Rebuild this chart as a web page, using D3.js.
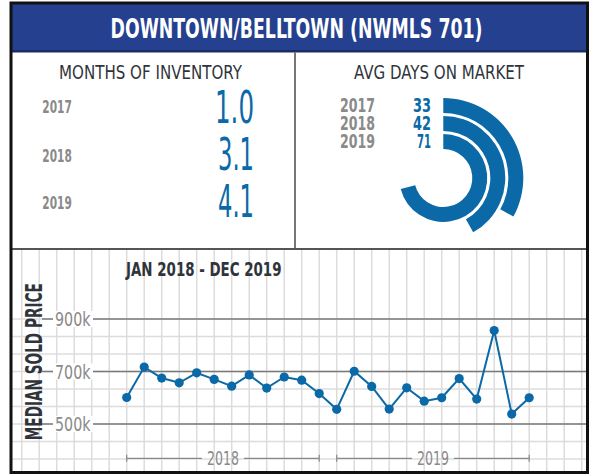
<!DOCTYPE html>
<html>
<head>
<meta charset="utf-8">
<script src="https://cdn.jsdelivr.net/npm/d3@7"></script>
<style>
  body { margin: 0; background: #fff; }
  svg { display: block; }
</style>
</head>
<body>
<div id="chart"></div>
<script>
// Data
const title = "DOWNTOWN/BELLTOWN (NWMLS 701)";
const inventoryYears = ["2017", "2018", "2019"];
const monthsInventory = ["1.0", "3.1", "4.1"];
const domYears = ["2017", "2018", "2019"];
const avgDays = [33, 42, 71];
// median sold price, Jan 2018 - Dec 2019, in $k
const medianPrice = [601, 717, 675, 657, 695, 670, 644, 687, 637, 679, 667, 616,
                     556, 701, 643, 557, 638, 587, 600, 673, 595, 856, 538, 600];
const priceTicks = [500, 700, 900];
const bracketYears = ["2018", "2019"];

const w = 592, h = 475;
const blue = "#0b69a7";
const dark = "#2f343a";
const gray = "#8a8a8a";
const font = "'Liberation Sans Narrow','DejaVu Sans Condensed',Roboto,sans-serif";

const svg = d3.select("#chart").append("svg")
  .attr("width", w).attr("height", h);

// helper for condensed text squeezed to a width
const label = (g, txt, x, y, o) => {
  const t = g.append("text")
    .attr("x", x).attr("y", y)
    .attr("text-anchor", o.anchor || "start")
    .style("font-family", font)
    .style("font-size", o.size + "px")
    .style("font-weight", o.weight || 400)
    .style("fill", o.fill)
    .text(txt);
  if (o.width) t.attr("textLength", o.width).attr("lengthAdjust", "spacingAndGlyphs");
  return t;
};

/************************************
 * Header
 ************************************/
svg.append("rect").attr("x", 12).attr("y", 4).attr("width", 575).attr("height", 48)
  .style("fill", "#24408e");
svg.append("rect").attr("x", 12).attr("y", 50).attr("width", 575).attr("height", 2.5)
  .style("fill", "#1b2e63");
label(svg, title, 296.5, 37.5, { anchor: "middle", size: 27, weight: 700, fill: "#fff", width: 372 });

/************************************
 * Months of inventory
 ************************************/
const left = svg.append("g");
label(left, "MONTHS OF INVENTORY", 150.5, 78.5, { anchor: "middle", size: 20, weight: 400, fill: dark, width: 183 });
const invRows = [113.3, 161.5, 209];
const invVals = [123.3, 170, 217.3];
const invW = [39, 36, 36];
inventoryYears.forEach((yr, i) => {
  label(left, yr, 42.3, invRows[i], { size: 17, weight: 700, fill: gray, width: 29.5 });
  label(left, monthsInventory[i], 254, invVals[i], { anchor: "end", size: 44, weight: 300, fill: blue, width: invW[i] });
});

/************************************
 * Avg days on market (radial bars)
 ************************************/
const right = svg.append("g");
label(right, "AVG DAYS ON MARKET", 439, 78.5, { anchor: "middle", size: 20, weight: 400, fill: dark, width: 170 });

const cx = 443.3, cy = 178;
const angle = d3.scaleLinear().domain([0, 100]).range([0, 2 * Math.PI]);
// innermost ring is the latest year
const ringR = d3.scaleBand().domain(domYears.slice().reverse()).range([29, 80]).paddingInner(0.17);
const bw = ringR.bandwidth();
const arc = d3.arc()
  .startAngle(0)
  .endAngle(d => angle(d.v))
  .innerRadius(d => ringR(d.yr))
  .outerRadius(d => ringR(d.yr) + bw);

right.append("g").attr("transform", "translate(" + cx + "," + cy + ")")
  .selectAll("path")
  .data(domYears.map((yr, i) => ({ yr: yr, v: avgDays[i] })))
  .enter()
  .append("path")
  .attr("d", arc)
  .style("fill", blue);

domYears.forEach((yr, i) => {
  const by = cy - (ringR(yr) + bw) + 13.8;
  label(right, yr, 340, by, { size: 19, weight: 700, fill: gray, width: 35 });
  label(right, avgDays[i], 431, by, { anchor: "end", size: 19, weight: 700, fill: blue, width: avgDays[i] === 71 ? 14 : 18 });
});

// panel frame lines
svg.append("line").attr("x1", 295).attr("x2", 295).attr("y1", 52).attr("y2", 249)
  .style("stroke", "#777").style("stroke-width", 2);

/************************************
 * Median sold price line chart
 ************************************/
const x = d3.scaleLinear().domain([0, medianPrice.length - 1]).range([126.7, 529.2]);
const y = d3.scaleLinear().domain([500, 900]).range([424, 319]);
const step = 200 / 3;

const chart = svg.append("g");

// light grid
chart.selectAll(".vgrid")
  .data(d3.range(-6, 27).map(i => x(i)).filter(px => px > 14 && px < 585))
  .enter().append("line")
  .attr("x1", d => d).attr("x2", d => d)
  .attr("y1", 250).attr("y2", 471)
  .style("stroke", "#dcdcdc").style("stroke-width", 1.5);

chart.selectAll(".hgrid")
  .data(d3.range(-3, 7).map(k => y(500 + k * step)).filter(py => py > 251 && py < 471))
  .enter().append("line")
  .attr("x1", 12).attr("x2", 586)
  .attr("y1", d => d).attr("y2", d => d)
  .style("stroke", "#dcdcdc").style("stroke-width", 1.5);

// price reference lines and labels
priceTicks.forEach(v => {
  chart.append("line")
    .attr("x1", 42).attr("x2", 586)
    .attr("y1", y(v)).attr("y2", y(v))
    .style("stroke", "#7a7a7a").style("stroke-width", 1.5);
  chart.append("rect")
    .attr("x", 53).attr("y", y(v) - 8).attr("width", 40).attr("height", 16)
    .style("fill", "#fff");
  label(chart, v + "k", 55, y(v) + 7, { size: 19, weight: 400, fill: gray, width: 35.5 });
});

// separator between top panels and chart
svg.append("line").attr("x1", 12).attr("x2", 586).attr("y1", 249).attr("y2", 249)
  .style("stroke", "#555").style("stroke-width", 2);

label(chart, "JAN 2018 - DEC 2019", 126, 275.7, { size: 20, weight: 700, fill: dark, width: 155.5 });

label(chart, "MEDIAN SOLD PRICE", 0, 0, { anchor: "middle", size: 23, weight: 700, fill: dark, width: 157 })
  .attr("transform", "translate(41.5,361.7) rotate(-90)");

// series
const line = d3.line()
  .x((d, i) => x(i))
  .y(d => y(d));

chart.append("path")
  .datum(medianPrice)
  .attr("d", line)
  .style("fill", "none")
  .style("stroke", blue)
  .style("stroke-width", 2);

chart.selectAll("circle")
  .data(medianPrice)
  .enter()
  .append("circle")
  .attr("cx", (d, i) => x(i))
  .attr("cy", d => y(d))
  .attr("r", 4.6)
  .style("fill", blue);

// year brackets under the axis
bracketYears.forEach((yr, k) => {
  const x0 = x(k * 12), x1 = x(k * 12 + 11), xm = (x0 + x1) / 2;
  const by = 458.3;
  const g = chart.append("g").style("stroke", gray).style("stroke-width", 1.2);
  g.append("line").attr("x1", x0).attr("x2", xm - 21).attr("y1", by).attr("y2", by);
  g.append("line").attr("x1", xm + 21).attr("x2", x1).attr("y1", by).attr("y2", by);
  g.append("line").attr("x1", x0).attr("x2", x0).attr("y1", by - 3.5).attr("y2", by + 3.5);
  g.append("line").attr("x1", x1).attr("x2", x1).attr("y1", by - 3.5).attr("y2", by + 3.5);
  label(chart, yr, xm, 464.5, { anchor: "middle", size: 19, weight: 400, fill: gray, width: 32 });
});

// outer frame
svg.append("rect").attr("x", 11).attr("y", 3).attr("width", 576.5).attr("height", 469.5)
  .style("fill", "none").style("stroke", "#111").style("stroke-width", 3);
</script>
</body>
</html>
